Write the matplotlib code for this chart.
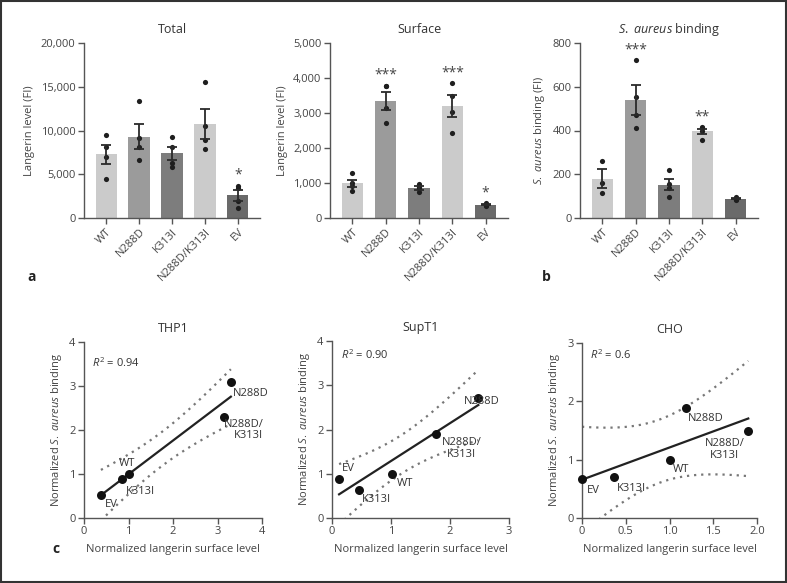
import numpy as np
import matplotlib
matplotlib.use('Agg')
import matplotlib.pyplot as plt
from matplotlib.patches import Rectangle

plt.rcParams['font.family'] = ['Open Sans', 'DejaVu Sans']
plt.rcParams['mathtext.fontset'] = 'custom'
plt.rcParams['mathtext.rm'] = 'Open Sans'
plt.rcParams['mathtext.it'] = 'Open Sans:italic'

# Data
groups = ['WT', 'N288D', 'K313I', 'N288D/K313I', 'EV']
bar_colors = ['#cbcbcb', '#9b9b9b', '#7d7d7d', '#cbcbcb', '#6a6a6a']

total_pts = [[9525, 8115, 7010, 4496],
             [13410, 9106, 8077, 6630],
             [9220, 8115, 6325, 5868],
             [15583, 10554, 8915, 7887],
             [3696, 3467, 1981, 1181]]
surface_pts = [[1276, 1010, 914, 781],
               [3781, 3760, 3152, 2705],
               [980, 880, 850, 730],
               [3848, 3495, 3019, 2429],
               [380, 350, 360, 430]]
saureus_pts = [[261, 162, 116],
               [722, 555, 471, 413],
               [219, 155, 136, 98],
               [414, 412, 400, 357],
               [86, 82, 87, 95]]

total_stars = {4: '*'}
surface_stars = {1: '***', 3: '***', 4: '*'}
saureus_stars = {1: '***', 3: '**'}

# scatter panels: normalized surface level (x) vs normalized binding (y)
pt_labels = ['EV', 'K313I', 'WT', 'N288D/\nK313I', 'N288D']
thp1_x = [0.38, 0.85, 1.0, 3.15, 3.3]
thp1_y = [0.53, 0.88, 1.0, 2.3, 3.08]
supt1_x = [0.12, 0.45, 1.01, 1.76, 2.48]
supt1_y = [0.89, 0.64, 0.99, 1.9, 2.72]
cho_x = [0.0, 0.36, 1.0, 1.9, 1.19]
cho_y = [0.67, 0.70, 1.0, 1.49, 1.88]

T_975_DF3 = 3.182  # t quantile for 95% CI with n=5


def bar_panel(rect, pts, title, ylabel, ymax, yticks, ytl, stars, star_y):
    ax = fig.add_axes(rect)
    xs = np.arange(len(groups))
    means = [np.mean(p) for p in pts]
    sems = [np.std(p, ddof=1) / np.sqrt(len(p)) for p in pts]
    ax.bar(xs, means, width=0.64, color=bar_colors, zorder=1)
    for i, p in enumerate(pts):
        ax.scatter([i] * len(p), p, s=14, color='#1e1e1e', zorder=3, lw=0)
    ax.errorbar(xs, means, yerr=sems, fmt='none', ecolor='#2a2a2a',
                elinewidth=1.3, capsize=3.6, capthick=1.3, zorder=4)
    for i, s in stars.items():
        ax.text(i, star_y[i], s, ha='center', va='center', fontsize=10,
                color='#444444')
    ax.set_xlim(-0.67, 4.67)
    ax.set_ylim(0, ymax)
    ax.set_yticks(yticks)
    ax.set_yticklabels(ytl)
    ax.set_xticks(xs)
    ax.set_xticklabels(groups, rotation=45, ha='right', rotation_mode='anchor')
    ax.set_title(title, fontsize=9, color='#333333', pad=7)
    ax.set_ylabel(ylabel, fontsize=8, color='#444444')
    style(ax)
    return ax


def style(ax):
    for s in ['top', 'right']:
        ax.spines[s].set_visible(False)
    for s in ['left', 'bottom']:
        ax.spines[s].set_color('#555555')
        ax.spines[s].set_linewidth(1.0)
    ax.tick_params(direction='out', length=4, width=1.0, color='#555555',
                   labelsize=8, labelcolor='#444444', pad=2)


def scatter_panel(rect, x, y, title, r2, xmax, ymax, xticks, xtl, lab_pos, r2_pos):
    ax = fig.add_axes(rect)
    x = np.array(x)
    y = np.array(y)
    n = len(x)
    slope, icpt = np.polyfit(x, y, 1)
    xx = np.linspace(x.min(), x.max(), 200)
    yy = icpt + slope * xx
    resid = y - (icpt + slope * x)
    s = np.sqrt(np.sum(resid ** 2) / (n - 2))
    sxx = np.sum((x - x.mean()) ** 2)
    half = T_975_DF3 * s * np.sqrt(1.0 / n + (xx - x.mean()) ** 2 / sxx)
    ax.plot(xx, yy, color='#222222', lw=1.6, zorder=2)
    ax.plot(xx, yy + half, color='#777777', lw=1.6, ls=(0, (1, 2.2)), zorder=1)
    ax.plot(xx, yy - half, color='#777777', lw=1.6, ls=(0, (1, 2.2)), zorder=1)
    ax.scatter(x, y, s=42, color='#111111', zorder=3, clip_on=False, lw=0)
    for lab, (lx, ly, ha) in zip(pt_labels, lab_pos):
        ax.text(lx, ly, lab, ha=ha, va='center', ma=ha if ha != 'left' else 'left',
                fontsize=8, color='#333333', linespacing=1.1, clip_on=False)
    ax.text(r2_pos[0], r2_pos[1], r'$\mathit{R}^{\mathrm{2}}$ = ' + r2,
            transform=ax.transAxes, fontsize=8, color='#333333', va='center')
    ax.set_xlim(0, xmax)
    ax.set_ylim(0, ymax)
    ax.set_xticks(xticks)
    ax.set_xticklabels(xtl)
    ax.set_yticks(range(int(ymax) + 1))
    ax.set_title(title, fontsize=9, color='#333333', pad=7)
    ax.set_xlabel('Normalized langerin surface level', fontsize=8,
                  color='#444444', labelpad=5)
    ax.set_ylabel(r'Normalized $\mathit{S.\ aureus}$ binding', fontsize=8,
                  color='#444444')
    style(ax)
    return ax


fig = plt.figure(figsize=(7.87, 5.83), dpi=100)
W, H = 787.0, 583.0


def rect(l, r, t, b):
    return [l / W, 1 - b / H, (r - l) / W, (b - t) / H]


bar_panel(rect(84, 260, 43, 218), total_pts, 'Total', 'Langerin level (FI)',
          20000, [0, 5000, 10000, 15000, 20000],
          ['0', '5,000', '10,000', '15,000', '20,000'], total_stars, {4: 4900})
bar_panel(rect(330, 508, 43, 218), surface_pts, 'Surface', 'Langerin level (FI)',
          5000, [0, 1000, 2000, 3000, 4000, 5000],
          ['0', '1,000', '2,000', '3,000', '4,000', '5,000'], surface_stars,
          {1: 4080, 3: 4150, 4: 720})
bar_panel(rect(580, 758, 43, 218), saureus_pts,
          r'$\mathit{S.\ aureus}$ binding', r'$\mathit{S.\ aureus}$ binding (FI)',
          800, [0, 200, 400, 600, 800], ['0', '200', '400', '600', '800'],
          saureus_stars, {1: 770, 3: 460})

scatter_panel(rect(84, 262, 342, 518), thp1_x, thp1_y, 'THP1', '0.94', 4, 4,
              [0, 1, 2, 3, 4], ['0', '1', '2', '3', '4'],
              [(0.62, 0.3, 'center'), (0.94, 0.6, 'left'), (0.96, 1.24, 'center'),
               (4.03, 2.0, 'right'), (3.35, 2.83, 'left')],
              (0.047, 0.88))
scatter_panel(rect(332, 509, 341, 518), supt1_x, supt1_y, 'SupT1', '0.90', 3, 4,
              [0, 1, 2, 3], ['0', '1', '2', '3'],
              [(0.16, 1.12, 'left'), (0.5, 0.41, 'left'), (1.1, 0.78, 'left'),
               (2.2, 1.57, 'center'), (2.23, 2.63, 'left')],
              (0.05, 0.92))
scatter_panel(rect(582, 757, 343, 518), cho_x, cho_y, 'CHO', '0.6', 2, 3,
              [0, 0.5, 1.0, 1.5, 2.0], ['0', '0.5', '1.0', '1.5', '2.0'],
              [(0.05, 0.47, 'left'), (0.40, 0.51, 'left'), (1.04, 0.84, 'left'),
               (1.63, 1.17, 'center'), (1.21, 1.71, 'left')],
              (0.046, 0.93))

fig.text(27 / W, 1 - 277 / H, 'a', fontsize=10, fontweight='bold', va='center',
         color='#222222')
fig.text(542 / W, 1 - 277 / H, 'b', fontsize=10, fontweight='bold', va='center',
         color='#222222')
fig.text(52 / W, 1 - 549 / H, 'c', fontsize=10, fontweight='bold', va='center',
         color='#222222')

fig.patches.append(Rectangle((0.001, 0.001), 0.998, 0.997, transform=fig.transFigure,
                             fill=False, edgecolor='#333333', lw=1.5))

fig.savefig('out.png', dpi=100)
